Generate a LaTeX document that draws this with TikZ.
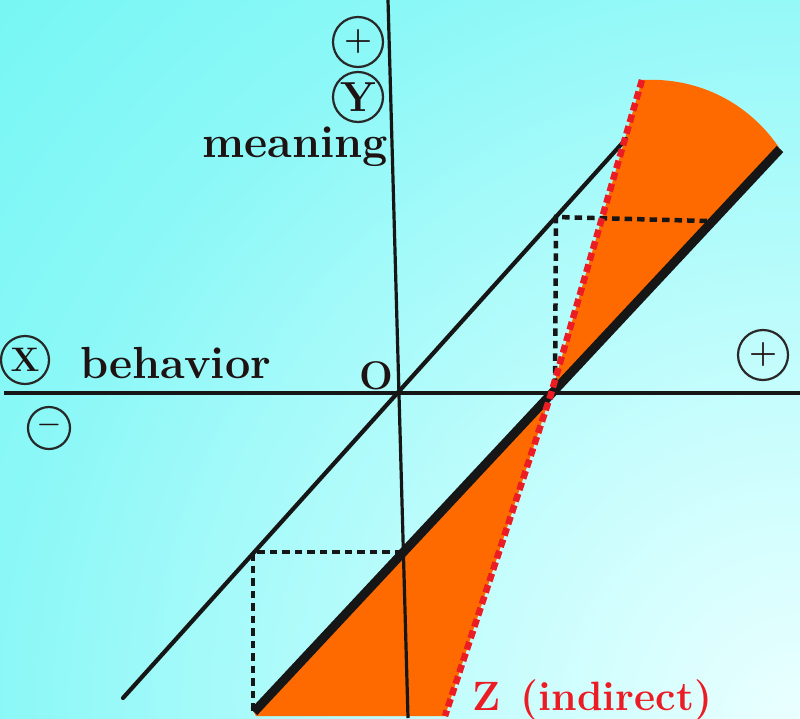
\documentclass[tikz,border=0pt]{standalone}
\definecolor{bgA}{RGB}{234,255,255}
\definecolor{bgB}{RGB}{200,253,253}
\definecolor{bgC}{RGB}{140,248,247}
\definecolor{bgD}{RGB}{100,245,242}
\definecolor{bgE}{RGB}{80,242,239}
\definecolor{bgF}{RGB}{45,235,232}
\definecolor{orangefill}{RGB}{255,106,0}
\definecolor{zred}{RGB}{236,28,36}
\definecolor{linecol}{RGB}{22,22,22}
\definecolor{txtcol}{RGB}{30,18,18}
\definecolor{ringcol}{RGB}{40,40,40}
\pgfdeclareradialshading{bgshade}{\pgfpoint{0bp}{0bp}}{color(0bp)=(bgA); color(7bp)=(bgB); color(18bp)=(bgC); color(30bp)=(bgD); color(36bp)=(bgE); color(48bp)=(bgF); color(50bp)=(bgF)}
\tikzset{
  axisline/.style={line width=3.2pt, draw=linecol},
  thinline/.style={line width=4.2pt, draw=linecol, line cap=round},
  thickline/.style={line width=9pt, draw=linecol},
  guide/.style={line width=4.5pt, draw=linecol, dash pattern=on 7.5pt off 5pt},
  zline/.style={line width=6.5pt, draw=zred, dash pattern=on 8pt off 4pt},
  ring/.style={circle, draw=ringcol, line width=2.2pt, minimum size=50pt, inner sep=0pt, text=txtcol},
  lbl/.style={inner sep=0pt, text=txtcol, font=\bfseries\fontsize{45}{50}\selectfont},
  signtxt/.style={font=\bfseries\fontsize{32}{36}\selectfont},
}
\begin{document}
\begin{tikzpicture}[x=1pt,y=-1pt]
\useasboundingbox (0,0) rectangle (800,718);
\begin{scope}
  \clip (0,0) rectangle (800,718);
  \shade[shading=bgshade] (800,718) circle (1100);
\end{scope}

% coordinates
\coordinate (vt) at (388,0);
\coordinate (vb) at (408,718);
\coordinate (hl) at (4,393);
\coordinate (hr) at (800,393);
\coordinate (tl) at (123,698);
\coordinate (tu) at (626,139);
\coordinate (kb) at (254,712);
\coordinate (ku) at (780,149);
\coordinate (C) at (551,394);
\coordinate (zt) at (642,80);
\coordinate (zb) at (445,716);
\coordinate (kbb) at (256,716);
\coordinate (ua) at (556,217);
\coordinate (ub) at (555,390);
\coordinate (uc) at (707,221);
\coordinate (la) at (253,552);
\coordinate (lb) at (253,712);
\coordinate (lc) at (402,552);

% orange regions
\fill[orangefill] (C) -- (zt) .. controls (700,77) and (750,104) .. (ku) -- cycle;
\fill[orangefill] (C) -- (kb) -- (kbb) -- (zb) -- cycle;

% axes
\draw[axisline] (hl) -- (hr);
\draw[axisline] (vt) -- (vb);

% thin diagonal
\draw[thinline] (tl) -- (tu);

% dashed guides
\draw[guide] (uc) -- (ua) -- (ub);
\draw[guide] (lc) -- (la) -- (lb);

% thick line
\draw[thickline] (kb) -- (ku);

% red dashed line
\draw[zline] (zt) -- (C) -- (zb);

% labels
\node[lbl, anchor=base east] (meaning) at (388,157) {meaning};
\node[lbl, anchor=base west] (behavior) at (80,378) {behavior};
\node[lbl, font=\bfseries\fontsize{40}{44}\selectfont, anchor=base] (olbl) at (376,389) {O};
\node[lbl, text=zred, font=\bfseries\fontsize{41}{46}\selectfont, anchor=base west] (zlbl) at (472,710) {Z\hspace{0.5em}(indirect)};

% circled marks
\node[ring, signtxt] (yplus) at (358,42) {+};
\node[ring, font=\bfseries\fontsize{42}{46}\selectfont] (ylbl) at (358,97) {Y};
\node[ring, minimum size=48pt, font=\bfseries\fontsize{34}{36}\selectfont] (xlbl) at (25,360) {X};
\node[ring, minimum size=42pt, font=\bfseries\fontsize{26}{30}\selectfont] (xminus) at (49,428) {−};
\node[ring, signtxt] (xplus) at (763,355) {+};
\end{tikzpicture}
\end{document}
